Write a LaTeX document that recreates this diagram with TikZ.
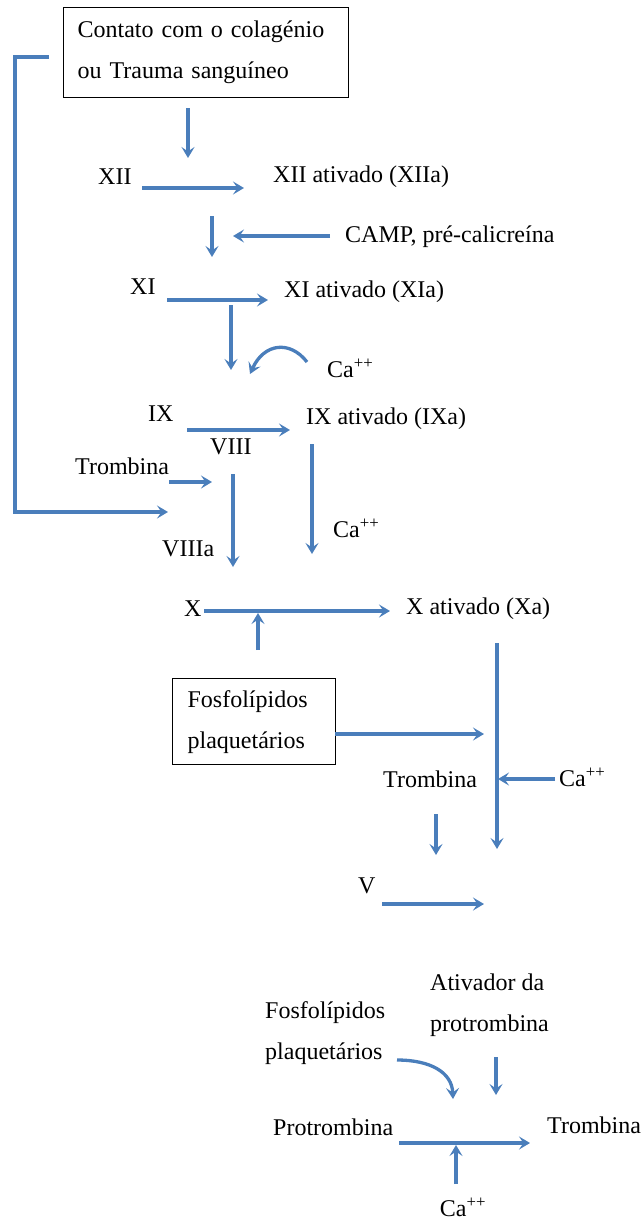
\documentclass[tikz,border=0pt]{standalone}
\usepackage{fontspec}
\setmainfont{Liberation Serif}
\usetikzlibrary{arrows.meta}
\definecolor{setaazul}{RGB}{74,126,187}
\tikzset{
  seta/.style={-{Stealth[length=11pt,width=13pt,inset=4.5pt]}, line width=3.3pt, setaazul},
  txt/.style={anchor=west, inner sep=0pt, align=left},
  caixa/.style={draw, line width=1.3pt, align=left, anchor=north west, inner ysep=0pt},
}
\begin{document}
\begin{tikzpicture}[x=1pt,y=-1pt,font=\fontsize{24}{41}\selectfont]
\useasboundingbox (0,0) rectangle (641,1221);
% contato / XII:
\node[caixa, minimum width=285pt, minimum height=90pt, text width=257pt, inner xsep=14pt] (trauma) at (63,7) {Contato com o colagénio\\ou Trauma sanguíneo};
\node[txt] (xii) at (98,177) {XII};
\node[txt] (xiia) at (273,177) {XII ativado (XIIa)};
\node[txt] (camp) at (345,237) {CAMP, pré-calicreína};
\coordinate (v1) at (49,57); \coordinate (canto) at (15,300); \coordinate (v2) at (168,512);
\coordinate (a1) at (188,108); \coordinate (a2) at (188,158);
\coordinate (a3) at (142,188); \coordinate (a4) at (244,188);
\coordinate (a5) at (212,216); \coordinate (a6) at (212,257);
\coordinate (a7) at (330,236); \coordinate (a8) at (233,236);
\draw[seta] (v1) -| (canto) |- (v2);
\draw[seta] (a1) -- (a2);
\draw[seta] (a3) -- (a4);
\draw[seta] (a5) -- (a6);
\draw[seta] (a7) -- (a8);
% XI / IX:
\node[txt] (xi) at (130,287) {XI};
\node[txt] (xia) at (284,292) {XI ativado (XIa)};
\node[txt] (ca1) at (327,368) {Ca\textsuperscript{++}};
\node[txt] (ix) at (148,414) {IX};
\node[txt] (ixa) at (306,419) {IX ativado (IXa)};
\node[txt] (viii) at (210,447) {VIII};
\node[txt] (tromb1) at (75,466) {Trombina};
\node[txt] (ca2) at (333,528) {Ca\textsuperscript{++}};
\node[txt] (viiia) at (162,549) {VIIIa};
\coordinate (b1) at (167,300); \coordinate (b2) at (268,300);
\coordinate (b3) at (231,305); \coordinate (b4) at (231,370);
\coordinate (b5) at (307,362); \coordinate (b6) at (250,374);
\coordinate (b7) at (187,430); \coordinate (b8) at (290,430);
\coordinate (b9) at (169,482); \coordinate (b10) at (212,482);
\coordinate (b11) at (233,474); \coordinate (b12) at (233,567);
\coordinate (b13) at (312,444); \coordinate (b14) at (312,554);
\draw[seta] (b1) -- (b2);
\draw[seta] (b3) -- (b4);
\draw[seta] (b5) .. controls (290,340) and (264,343) .. (b6);
\draw[seta] (b7) -- (b8);
\draw[seta] (b9) -- (b10);
\draw[seta] (b11) -- (b12);
\draw[seta] (b13) -- (b14);
% X / V:
\node[txt] (x) at (184,609) {X};
\node[txt] (xa) at (406,609) {X ativado (Xa)};
\node[caixa, minimum width=163pt, minimum height=86pt, text width=133pt, inner xsep=15pt] (fosfo1) at (172,678) {Fosfolípidos\\plaquetários};
\node[txt] (tromb2) at (383,779) {Trombina};
\node[txt] (ca3) at (559,777) {Ca\textsuperscript{++}};
\node[txt] (v) at (358,886) {V};
\coordinate (c1) at (204,611); \coordinate (c2) at (390,611);
\coordinate (c3) at (258,650); \coordinate (c4) at (258,613);
\coordinate (c5) at (335,734); \coordinate (c6) at (484,734);
\coordinate (c7) at (497,643); \coordinate (c8) at (497,849);
\coordinate (c9) at (555,779); \coordinate (c10) at (498,779);
\coordinate (c11) at (436,814); \coordinate (c12) at (436,855);
\coordinate (c13) at (382,904); \coordinate (c14) at (484,904);
\draw[seta] (c1) -- (c2);
\draw[seta] (c3) -- (c4);
\draw[seta] (c5) -- (c6);
\draw[seta] (c7) -- (c8);
\draw[seta] (c9) -- (c10);
\draw[seta] (c11) -- (c12);
\draw[seta] (c13) -- (c14);
% protrombina:
\node[txt] (ativ) at (430,1005) {Ativador da\\protrombina};
\node[txt] (fosfo2) at (265,1033) {Fosfolípidos\\plaquetários};
\node[txt] (protr) at (273,1127) {Protrombina};
\node[txt] (tromb3) at (547,1125) {Trombina};
\node[anchor=center, inner sep=0pt] (ca4) at (463,1207) {Ca\textsuperscript{++}};
\coordinate (d1) at (397,1060); \coordinate (d2) at (453,1099);
\coordinate (d3) at (496,1057); \coordinate (d4) at (496,1095);
\coordinate (d5) at (399,1143); \coordinate (d6) at (530,1143);
\coordinate (d7) at (456,1184); \coordinate (d8) at (456,1145);
\draw[seta] (d1) .. controls (430,1060) and (452,1072) .. (d2);
\draw[seta] (d3) -- (d4);
\draw[seta] (d5) -- (d6);
\draw[seta] (d7) -- (d8);
\end{tikzpicture}
\end{document}
